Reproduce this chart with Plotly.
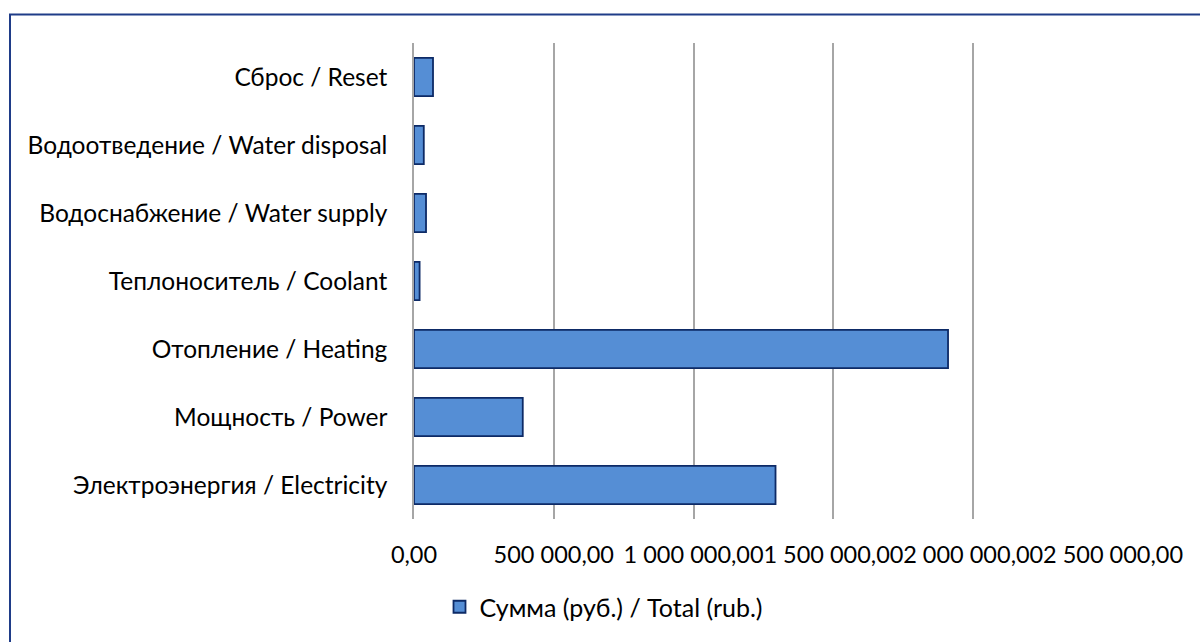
import plotly.graph_objects as go

# Utility cost breakdown, bottom-to-top category order
categories = [
    "Электроэнергия / Electricity",
    "Мощность / Power",
    "Отопление / Heating",
    "Теплоноситель / Coolant",
    "Водоснабжение / Water supply",
    "Водоотведение / Water disposal",
    "Сброс / Reset",
]
totals = [1293000, 389000, 1910000, 20000, 43000, 35000, 68000]

tick_values = [0, 500000, 1000000, 1500000, 2000000, 2500000]
tick_labels = ["0,00", "500 000,00", "1 000 000,00", "1 500 000,00",
               "2 000 000,00", "2 500 000,00"]

series_name = "Сумма (руб.) / Total (rub.)"

W, H = 1200, 642
L, R, T, B = 414, 1113, 43, 519
FONT = "Lato"

fig = go.Figure(
    go.Bar(
        x=totals,
        y=categories,
        orientation="h",
        name=series_name,
        marker=dict(color="#558ED5", line=dict(color="#0D2A66", width=1.8)),
        showlegend=True,
    )
)

def px_to_paper_x(px):
    return (px - L) / (R - L)

def px_to_paper_y(py):
    return (B - py) / (B - T)

fig.update_layout(
    width=W,
    height=H,
    margin=dict(l=L, r=W - R, t=T, b=H - B),
    paper_bgcolor="white",
    plot_bgcolor="white",
    bargap=0.44,
    font=dict(family=FONT, size=24, color="#000000"),
    xaxis=dict(
        range=[0, 2500000],
        tickvals=tick_values,
        ticktext=tick_labels,
        tickangle=0,
        showgrid=True,
        gridcolor="#A6A6A6",
        gridwidth=1.5,
        zeroline=False,
        showline=False,
        ticks="",
        ticklabelstandoff=19,
        tickfont=dict(family=FONT, size=23.5, color="#000000"),
        fixedrange=True,
    ),
    yaxis=dict(
        showgrid=False,
        zeroline=False,
        showline=True,
        linecolor="#A6A6A6",
        linewidth=1.5,
        ticks="",
        ticklabelstandoff=20,
        tickfont=dict(family=FONT, size=24.5, color="#000000"),
        fixedrange=True,
    ),
    legend=dict(
        orientation="h",
        x=px_to_paper_x(604),
        xanchor="center",
        y=px_to_paper_y(607),
        yanchor="middle",
        font=dict(family=FONT, size=25, color="#000000"),
        itemwidth=30,
        bgcolor="rgba(0,0,0,0)",
    ),
    shapes=[
        dict(
            type="rect",
            xref="paper",
            yref="paper",
            x0=px_to_paper_x(10),
            x1=px_to_paper_x(1260),
            y0=px_to_paper_y(700),
            y1=px_to_paper_y(14.5),
            line=dict(color="#1F3C88", width=2),
            fillcolor="rgba(0,0,0,0)",
            layer="below",
        )
    ],
)

fig.write_html("out.html")
